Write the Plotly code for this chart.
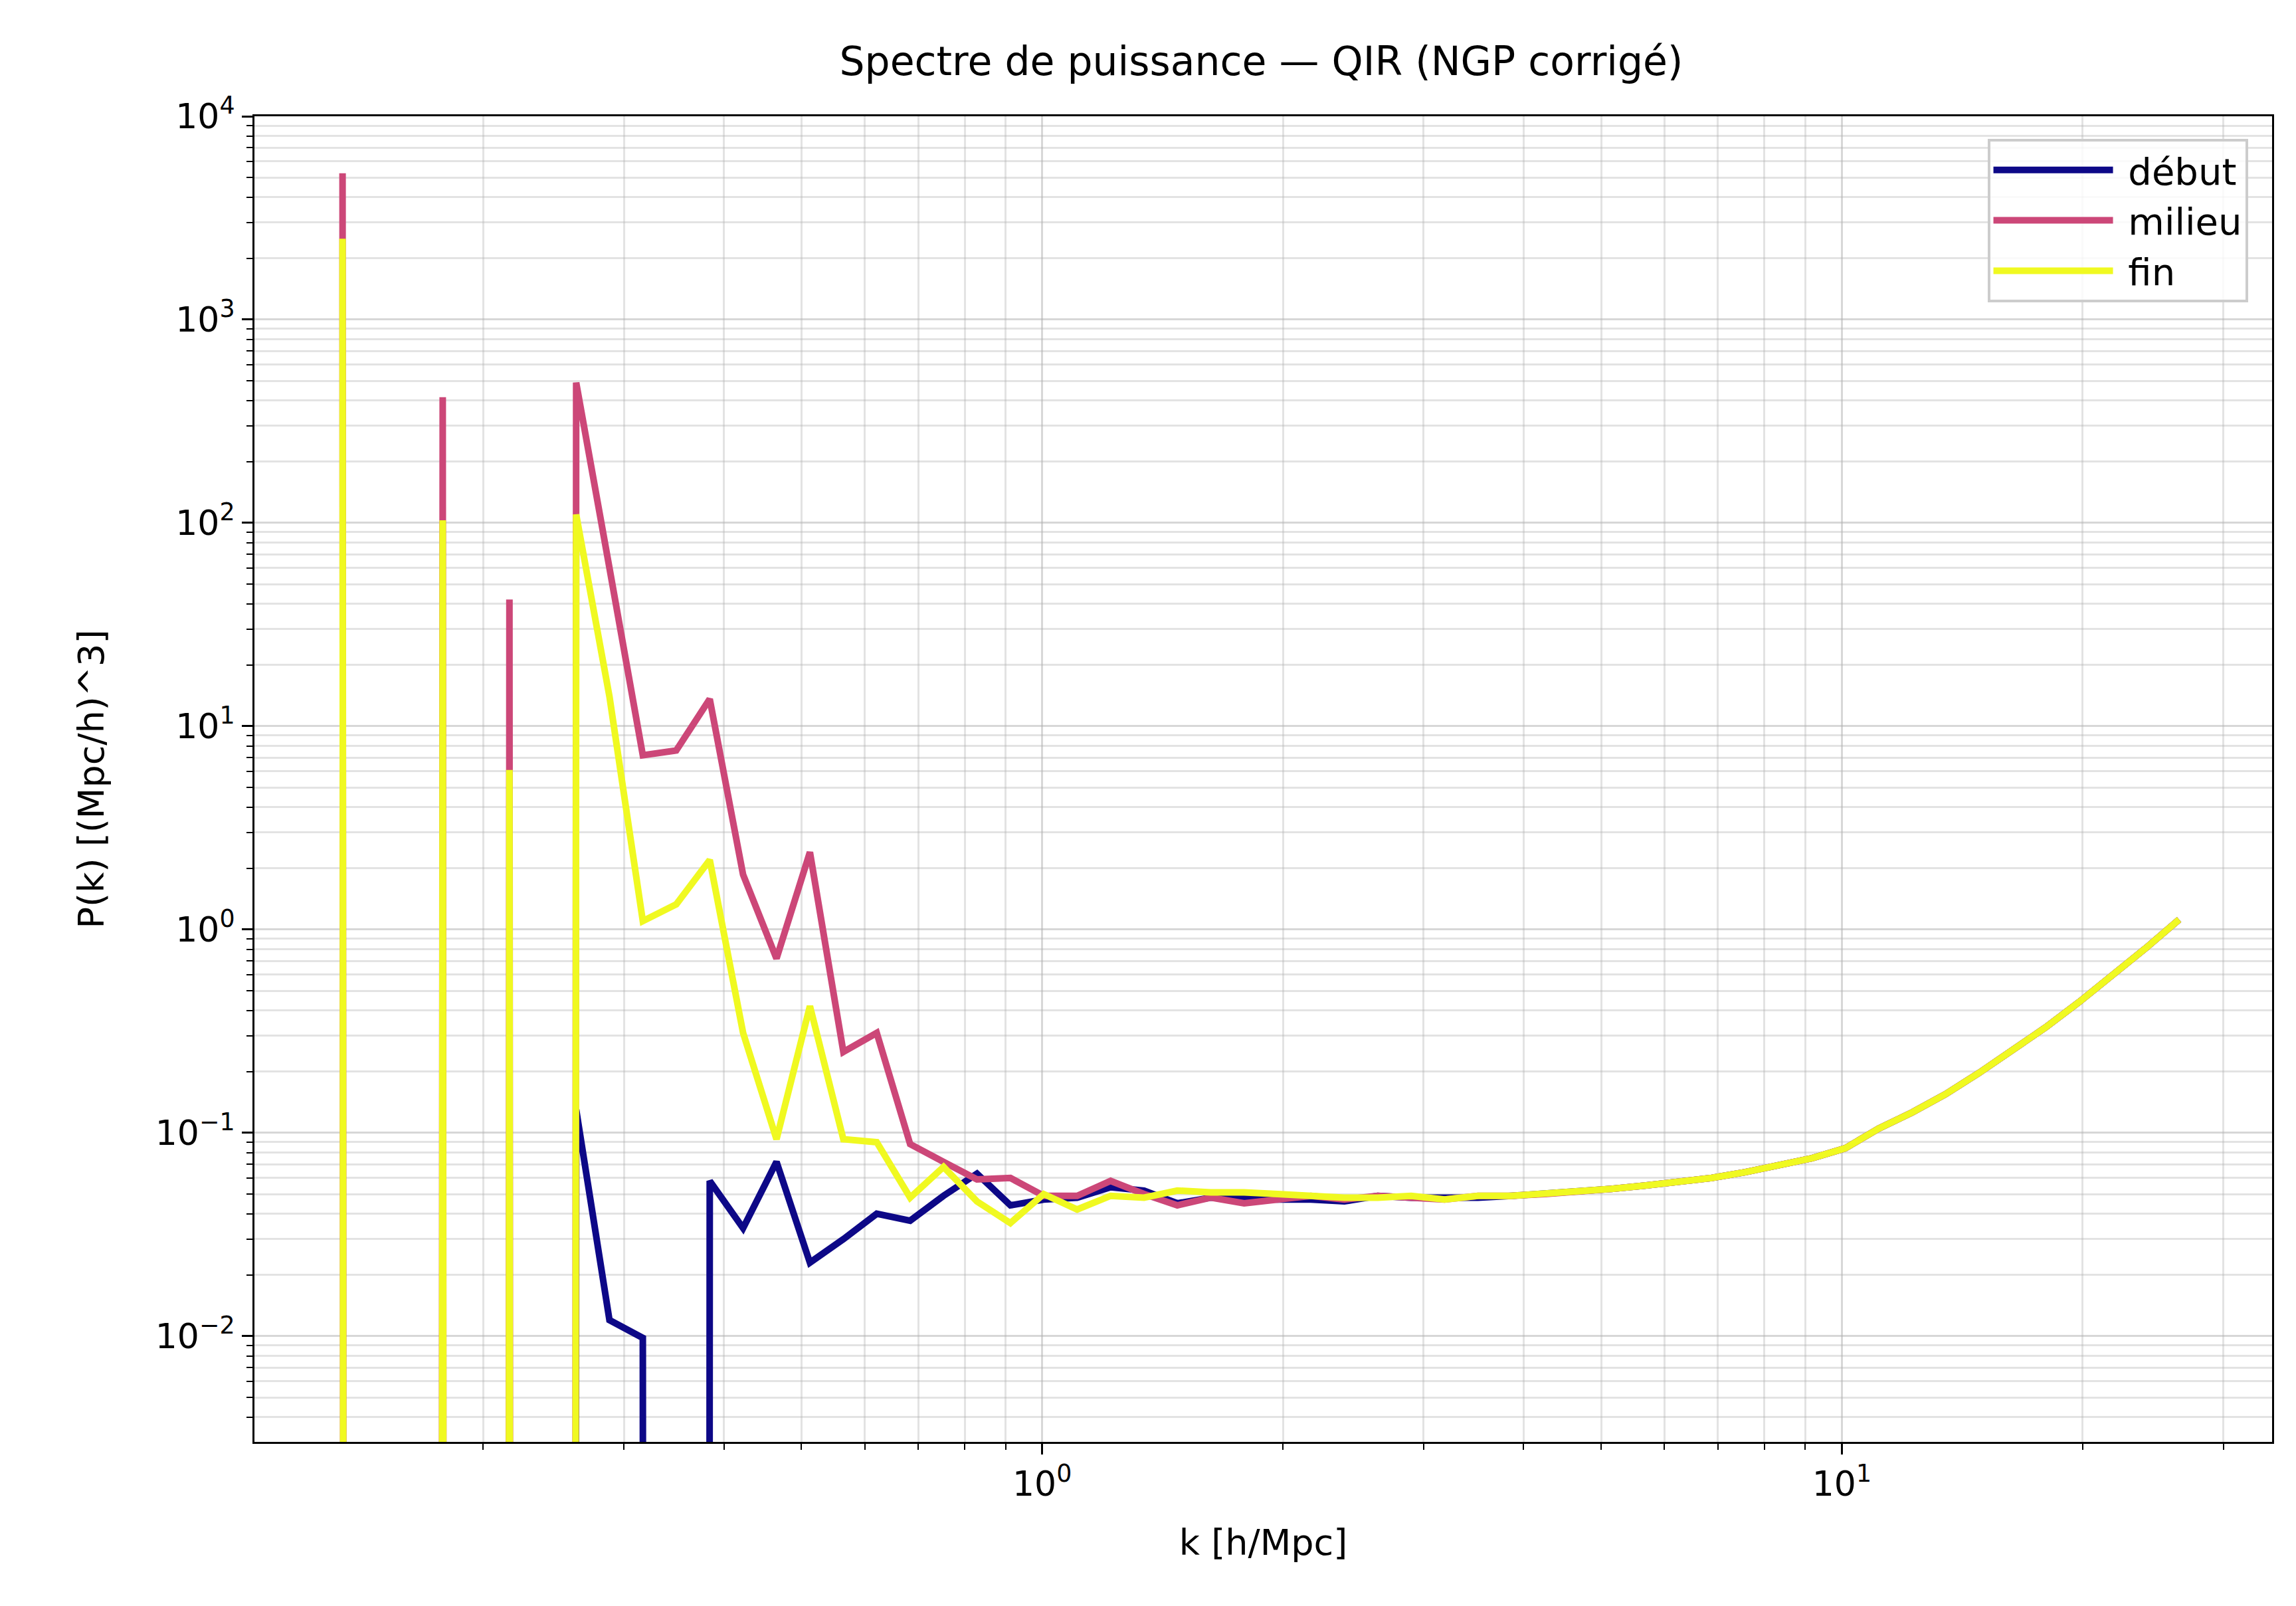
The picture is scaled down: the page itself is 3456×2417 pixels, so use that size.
import plotly.graph_objects as go

ZERO = 1e-300  # empty / non-positive bins, drawn straight down below the axis like matplotlib

k = [0.1334, 0.1470, 0.1617, 0.1780, 0.1960, 0.2157, 0.2375, 0.2614, 0.2877, 0.3167,
     0.3487, 0.3840, 0.4227, 0.4654, 0.5124, 0.5642, 0.6211, 0.6838, 0.7529, 0.8289,
     0.9126, 1.0046, 1.106, 1.218, 1.341, 1.476, 1.625, 1.789, 1.970, 2.168,
     2.387, 2.628, 2.894, 3.186, 3.507, 3.861, 4.251, 4.680, 5.152, 5.672,
     6.245, 6.875, 7.569, 8.332, 9.173, 10.10, 11.12, 12.24, 13.48, 14.84,
     16.33, 17.98, 19.80, 21.79, 23.99, 26.41]

tail = [0.049, 0.050, 0.051, 0.053, 0.055, 0.057, 0.060, 0.064, 0.069, 0.075,
        0.084, 0.105, 0.126, 0.155, 0.197, 0.253, 0.33, 0.44, 0.59, 0.81, 1.12]

debut = [ZERO, ZERO, ZERO, ZERO, ZERO, ZERO, ZERO, 0.13, 0.012, 0.0098,
         ZERO, 0.058, 0.034, 0.072, 0.023, 0.030, 0.040, 0.037, 0.049, 0.063,
         0.044, 0.047, 0.048, 0.054, 0.052, 0.045, 0.048, 0.048, 0.047, 0.047,
         0.046, 0.049, 0.048, 0.048, 0.048] + tail
milieu = [5250, ZERO, ZERO, 415, ZERO, 42, ZERO, 490, 60, 7.2,
          7.6, 13.6, 1.86, 0.72, 2.4, 0.25, 0.31, 0.088, 0.072, 0.059,
          0.060, 0.049, 0.049, 0.058, 0.050, 0.044, 0.048, 0.045, 0.047, 0.049,
          0.047, 0.049, 0.048, 0.047, 0.049] + tail
fin = [2500, ZERO, ZERO, 103, ZERO, 6.1, ZERO, 110, 14, 1.1,
       1.33, 2.2, 0.31, 0.093, 0.42, 0.093, 0.09, 0.048, 0.068, 0.046,
       0.036, 0.050, 0.042, 0.049, 0.048, 0.052, 0.051, 0.051, 0.050, 0.049,
       0.048, 0.048, 0.049, 0.047, 0.049] + tail

series = [('début', debut, '#0d0887'), ('milieu', milieu, '#cc4778'), ('fin', fin, '#f0f921')]

fig = go.Figure()
for name, vals, color in series:
    fig.add_trace(go.Scatter(x=k, y=vals, mode='lines', name=' ' + name,
                             line=dict(color=color, width=10)))

xminor = [m * 10 ** e for e in (-1, 0, 1) for m in range(2, 10)]
yminor = [m * 10 ** e for e in range(-3, 4) for m in range(2, 10)]
font = 'DejaVu Sans'
sup = lambda e: '10<sup>%s</sup>' % ('−%d' % -e if e < 0 else e)

axis_common = dict(showline=True, linecolor='black', linewidth=3, mirror=True,
                   ticks='outside', ticklen=16, tickwidth=3, tickcolor='black',
                   showgrid=True, gridcolor='rgba(176,176,176,0.5)', gridwidth=3,
                   zeroline=False, tickfont=dict(size=52, family=font, color='black'))

fig.update_layout(
    width=3456, height=2417, plot_bgcolor='white', paper_bgcolor='white',
    margin=dict(l=375, r=44, t=167, b=255),
    title=dict(text='Spectre de puissance — QIR (NGP corrigé)', x=0.547, xanchor='center',
               y=0.974, font=dict(size=60, family=font, color='black')),
    font=dict(family=font, color='black'),
    legend=dict(x=0.988, y=0.983, xanchor='right', yanchor='top',
                bordercolor='rgba(204,204,204,1)', borderwidth=4, bgcolor='rgba(255,255,255,0.8)',
                font=dict(size=56, family=font), itemwidth=180),
    showlegend=True,
)
fig.update_xaxes(type='log', range=[-0.985, 1.538], tickvals=[1, 10],
                 ticktext=[sup(0), sup(1)],
                 title=dict(text='k [h/Mpc]', font=dict(size=54, family=font), standoff=40),
                 minor=dict(tickvals=xminor, ticks='outside', ticklen=9, tickcolor='black',
                            tickwidth=2, showgrid=True, gridcolor='rgba(176,176,176,0.35)',
                            gridwidth=3),
                 **axis_common)
fig.update_yaxes(type='log', range=[-2.52, 4.0], tickvals=[10 ** e for e in range(-2, 5)],
                 ticktext=[sup(e) for e in range(-2, 5)],
                 title=dict(text='P(k) [(Mpc/h)^3]', font=dict(size=54, family=font), standoff=60),
                 minor=dict(tickvals=yminor, ticks='outside', ticklen=9, tickcolor='black',
                            tickwidth=2, showgrid=True, gridcolor='rgba(176,176,176,0.35)',
                            gridwidth=3),
                 **axis_common)

fig.write_html('out.html')
